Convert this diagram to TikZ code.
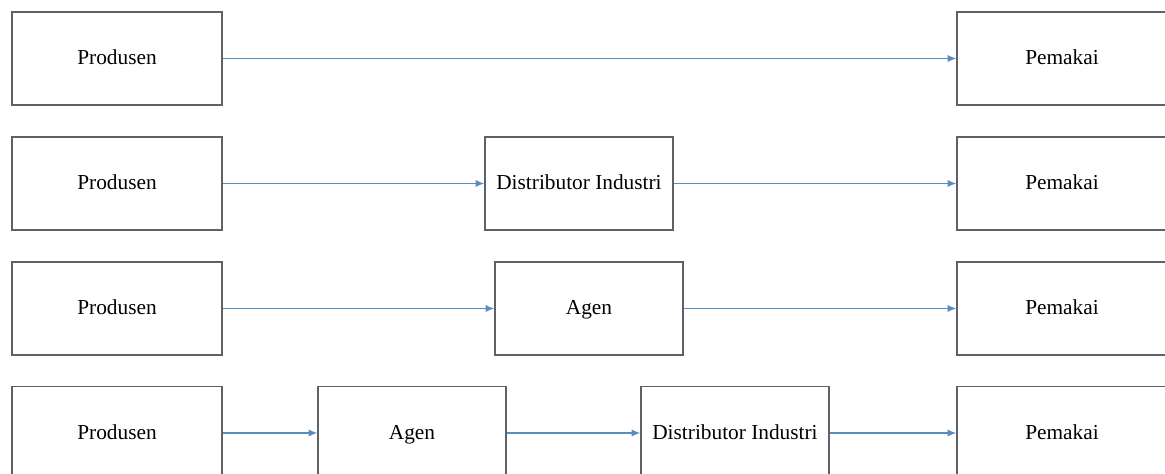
\documentclass[tikz,border=0pt]{standalone}
\usepackage{fontspec}
\setmainfont{Liberation Serif}
\usetikzlibrary{arrows.meta}
\definecolor{boxline}{HTML}{5E6266}
\definecolor{flow}{HTML}{5B8CC0}
\begin{document}
\begin{tikzpicture}[x=0.75pt,y=-0.75pt,
  stage/.style={draw=boxline,line width=1pt,fill=white,rectangle,
    minimum height=69.75pt,inner sep=0pt,text height=10.5pt,text depth=1.5pt,
    font=\fontsize{16}{19}\selectfont},
  wide/.style={stage,minimum width=157.5pt},
  mid/.style={stage,minimum width=141pt},
  flowline/.style={draw=flow,line width=1.1pt,
    -{Latex[length=6.5pt,width=5.5pt]}}]
\useasboundingbox (0,0) rectangle (1165,474);
\clip (0,0) rectangle (1165,474);
% direct channel
\node[wide] (p1) at (117,58.5) {Produsen};
\node[wide] (u1) at (1062,58.5) {Pemakai};
\draw[flowline] (p1.east) -- (u1.west);
% via industrial distributor
\node[wide] (p2) at (117,183.5) {Produsen};
\node[mid] (d2) at (579,183.5) {Distributor Industri};
\node[wide] (u2) at (1062,183.5) {Pemakai};
\draw[flowline] (p2.east) -- (d2.west);
\draw[flowline] (d2.east) -- (u2.west);
% via agent
\node[wide] (p3) at (117,308.5) {Produsen};
\node[mid] (a3) at (589,308.5) {Agen};
\node[wide] (u3) at (1062,308.5) {Pemakai};
\draw[flowline] (p3.east) -- (a3.west);
\draw[flowline] (a3.east) -- (u3.west);
% via agent and industrial distributor
\node[wide] (p4) at (117,433) {Produsen};
\node[mid] (a4) at (412,433) {Agen};
\node[mid] (d4) at (735,433) {Distributor Industri};
\node[wide] (u4) at (1062,433) {Pemakai};
\draw[flowline] (p4.east) -- (a4.west);
\draw[flowline] (a4.east) -- (d4.west);
\draw[flowline] (d4.east) -- (u4.west);
\end{tikzpicture}
\end{document}
